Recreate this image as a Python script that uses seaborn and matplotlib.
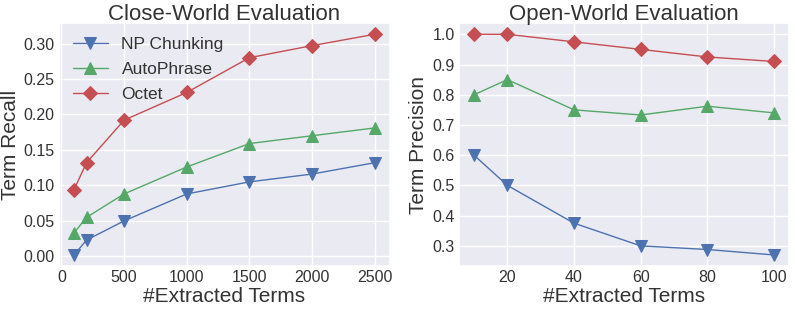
import matplotlib
matplotlib.use("Agg")
import matplotlib.pyplot as plt
import seaborn as sns

# Close-world data
cw_x = [100, 200, 500, 1000, 1500, 2000, 2500]
cw_np = [0.002, 0.023, 0.050, 0.088, 0.105, 0.116, 0.132]
cw_auto = [0.033, 0.055, 0.088, 0.126, 0.159, 0.170, 0.181]
cw_octet = [0.094, 0.132, 0.192, 0.231, 0.280, 0.297, 0.313]

# Open-world data
ow_x = [10, 20, 40, 60, 80, 100]
ow_np = [0.60, 0.50, 0.375, 0.30, 0.288, 0.27]
ow_auto = [0.80, 0.85, 0.75, 0.733, 0.762, 0.74]
ow_octet = [1.0, 1.0, 0.975, 0.95, 0.925, 0.91]

methods = ["NP Chunking", "AutoPhrase", "Octet"]
colors = ["#4C72B0", "#55A868", "#C44E52"]
markers = ["v", "^", "D"]
msizes = [8.2, 8.2, 7.4]

sns.set_theme(style="darkgrid")
plt.rcParams['font.family'] = ['Liberation Sans', 'DejaVu Sans']
plt.rcParams['text.color'] = '#333333'
plt.rcParams['axes.labelcolor'] = '#333333'
plt.rcParams['xtick.color'] = '#333333'
plt.rcParams['ytick.color'] = '#333333'

fig = plt.figure(figsize=(7.97, 3.10), dpi=100)
ax1 = fig.add_axes([0.074, 0.142, 0.415, 0.783])
ax2 = fig.add_axes([0.576, 0.142, 0.414, 0.783])

for ys, m, c, mk, ms in zip([cw_np, cw_auto, cw_octet], methods, colors, markers, msizes):
    sns.lineplot(x=cw_x, y=ys, ax=ax1, color=c, marker=mk, markersize=ms,
                 markeredgecolor=c, linewidth=1, label=m)
for ys, m, c, mk, ms in zip([ow_np, ow_auto, ow_octet], methods, colors, markers, msizes):
    sns.lineplot(x=ow_x, y=ys, ax=ax2, color=c, marker=mk, markersize=ms,
                 markeredgecolor=c, linewidth=1, legend=False)

ax1.set_title("Close-World Evaluation", fontsize=16, pad=2)
ax2.set_title("Open-World Evaluation", fontsize=16, pad=2)
ax1.set_xlabel("#Extracted Terms", fontsize=15, labelpad=1)
ax2.set_xlabel("#Extracted Terms", fontsize=15, labelpad=1)
ax1.set_ylabel("Term Recall", fontsize=15, labelpad=3)
ax2.set_ylabel("Term Precision", fontsize=15, labelpad=3)

ax1.set_xticks([0, 500, 1000, 1500, 2000, 2500])
ax1.set_yticks([0.0, 0.05, 0.10, 0.15, 0.20, 0.25, 0.30])
ax1.set_yticklabels(["0.00", "0.05", "0.10", "0.15", "0.20", "0.25", "0.30"])
ax2.set_xticks([20, 40, 60, 80, 100])
ax2.set_yticks([0.3, 0.4, 0.5, 0.6, 0.7, 0.8, 0.9, 1.0])
for ax in (ax1, ax2):
    ax.tick_params(labelsize=11.5, length=0, pad=3)

ax1.legend(loc="upper left", fontsize=12.5, frameon=False, borderaxespad=0.4,
           handlelength=2.0, labelspacing=0.55)

fig.savefig("out.png", dpi=100)
